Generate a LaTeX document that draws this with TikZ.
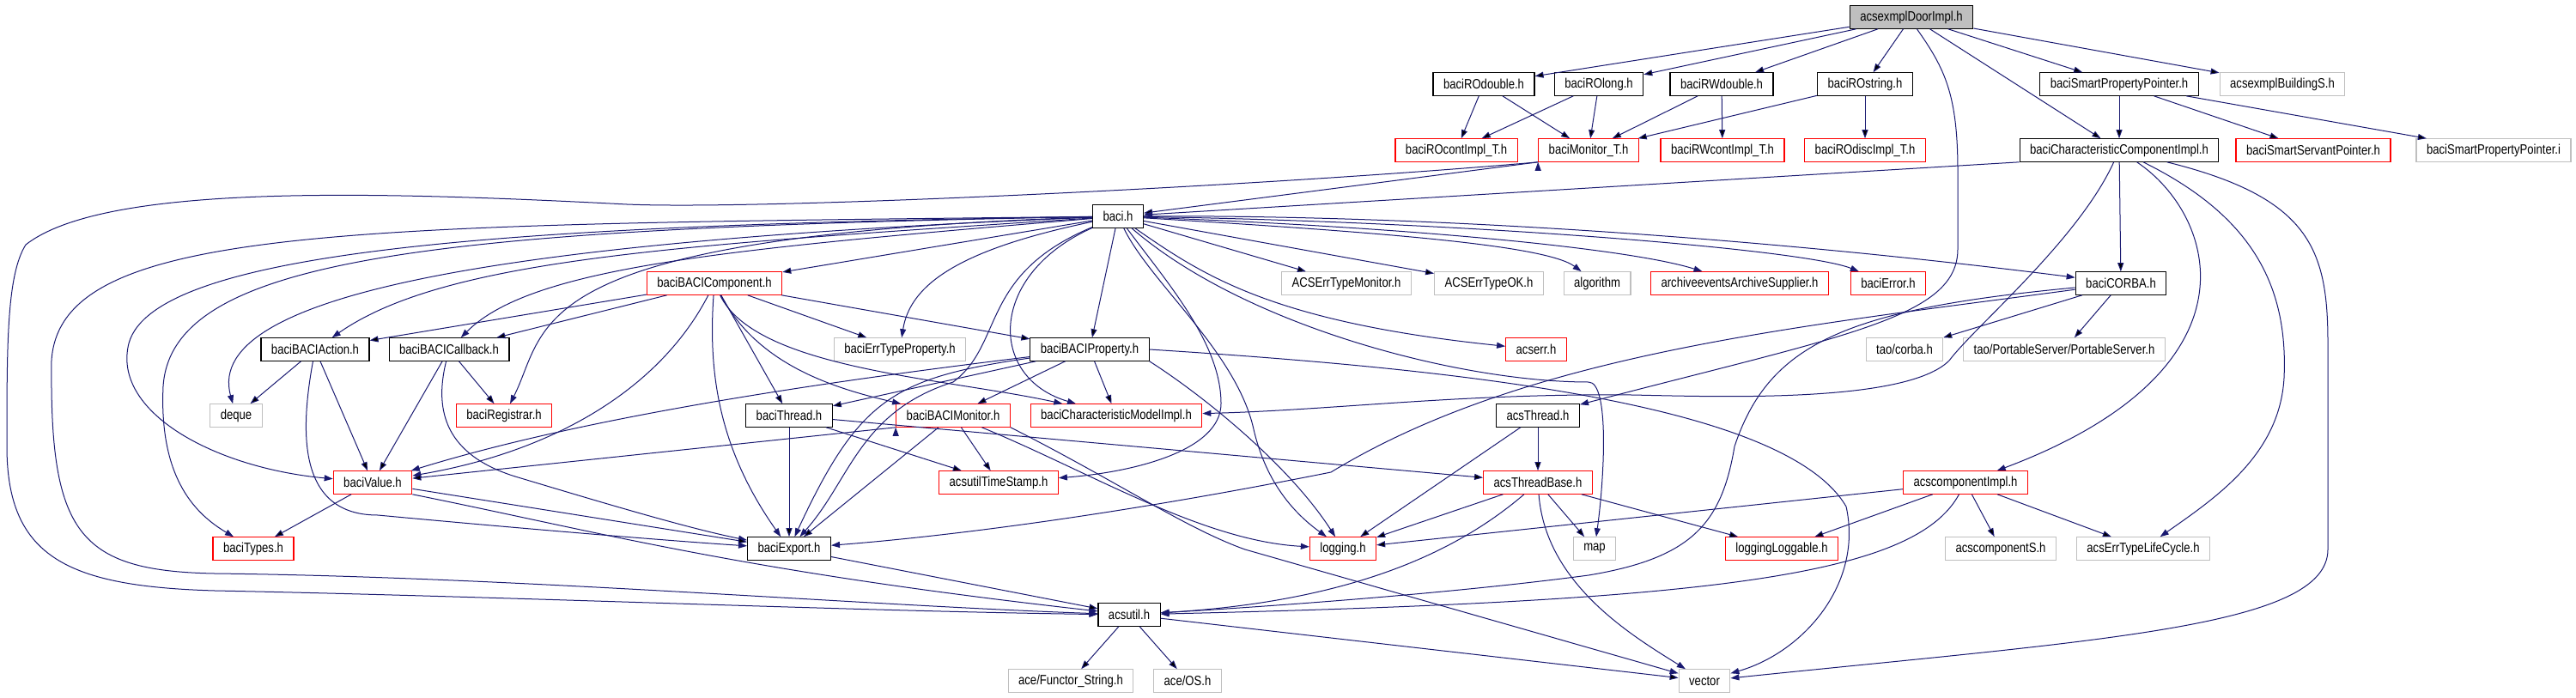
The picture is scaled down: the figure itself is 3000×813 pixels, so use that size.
\documentclass[tikz,border=0pt]{standalone}
\usepackage{fontspec}
\newfontfamily\dotfont{Liberation Sans}[FakeStretch=0.83]
\usepackage{tikz}
\usetikzlibrary{arrows.meta}
\definecolor{edgeblue}{HTML}{191970}
\definecolor{nodegray}{HTML}{BFBFBF}
\tikzstyle{every picture}+=[>={Triangle[length=10pt,width=7pt]}]
\tikzstyle{file}=[rectangle,draw=black,line width=1.1pt,fill=white,minimum height=26.5pt,inner xsep=12pt,inner ysep=0pt,font=\dotfont\fontsize{15.8}{18}\selectfont]
\tikzstyle{more}=[file,draw=red]
\tikzstyle{sys}=[file,draw=nodegray]
\tikzstyle{root}=[file,fill=nodegray]
\tikzstyle{dep}=[->,draw=edgeblue,line width=1pt]

\begin{document}
\begin{tikzpicture}[x=1pt,y=1pt]
\useasboundingbox (0,0) rectangle (3000,-813);
\node[root] (door) at (2226,-20) {acsexmplDoorImpl.h};
\node[file] (rodouble) at (1728,-98) {baciROdouble.h};
\node[file] (rolong) at (1862,-98) {baciROlong.h};
\node[file] (rwdouble) at (2005,-98) {baciRWdouble.h};
\node[file] (rostring) at (2172,-98) {baciROstring.h};
\node[file] (spp) at (2468,-98) {baciSmartPropertyPointer.h};
\node[sys] (buildings) at (2658,-98) {acsexmplBuildingS.h};
\node[more] (rocont) at (1696,-175) {baciROcontImpl\_T.h};
\node[more] (monitorT) at (1850,-175) {baciMonitor\_T.h};
\node[more] (rwcont) at (2006,-175) {baciRWcontImpl\_T.h};
\node[more] (rodisc) at (2172,-175) {baciROdiscImpl\_T.h};
\node[file] (cci) at (2468,-175) {baciCharacteristicComponentImpl.h};
\node[more] (ssp) at (2694,-175) {baciSmartServantPointer.h};
\node[sys] (sppi) at (2904,-175) {baciSmartPropertyPointer.i};
\node[file] (baci) at (1302,-252) {baci.h};
\node[more] (bacicomp) at (832,-330) {baciBACIComponent.h};
\node[sys] (errmon) at (1568,-330) {ACSErrTypeMonitor.h};
\node[sys] (errok) at (1734,-330) {ACSErrTypeOK.h};
\node[sys] (algorithm) at (1860,-330) {algorithm};
\node[more] (archsup) at (2026,-330) {archiveeventsArchiveSupplier.h};
\node[more] (bacierror) at (2199,-330) {baciError.h};
\node[file] (corba) at (2470,-330) {baciCORBA.h};
\node[file] (action) at (367,-407) {baciBACIAction.h};
\node[file] (callback) at (523,-407) {baciBACICallback.h};
\node[sys] (errprop) at (1048,-407) {baciErrTypeProperty.h};
\node[file] (property) at (1269,-407) {baciBACIProperty.h};
\node[more] (acserr) at (1789,-407) {acserr.h};
\node[sys] (taocorba) at (2218,-407) {tao/corba.h};
\node[sys] (portable) at (2404,-407) {tao/PortableServer/PortableServer.h};
\node[sys] (deque) at (275,-484) {deque};
\node[more] (registrar) at (587,-484) {baciRegistrar.h};
\node[file] (thread) at (919,-484) {baciThread.h};
\node[more] (bacimon) at (1110,-484) {baciBACIMonitor.h};
\node[more] (charmodel) at (1300,-484) {baciCharacteristicModelImpl.h};
\node[file] (acsthread) at (1791,-484) {acsThread.h};
\node[more] (value) at (434,-562) {baciValue.h};
\node[more] (timestamp) at (1163,-562) {acsutilTimeStamp.h};
\node[more] (threadbase) at (1791,-562) {acsThreadBase.h};
\node[more] (compimpl) at (2289,-562) {acscomponentImpl.h};
\node[more] (types) at (295,-639) {baciTypes.h};
\node[file] (export) at (919,-639) {baciExport.h};
\node[more] (logging) at (1564,-639) {logging.h};
\node[sys] (map) at (1857,-639) {map};
\node[more] (loggable) at (2075,-639) {loggingLoggable.h};
\node[sys] (compS) at (2330,-639) {acscomponentS.h};
\node[sys] (lifecycle) at (2496,-639) {acsErrTypeLifeCycle.h};
\node[file] (acsutil) at (1315,-716) {acsutil.h};
\node[sys] (functor) at (1247,-793) {ace/Functor\_String.h};
\node[sys] (os) at (1383,-793) {ace/OS.h};
\node[sys] (vector) at (1985,-793) {vector};

% top of the graph
\path[dep] (door) edge (rodouble) edge (rolong) edge (rwdouble) edge (rostring)
  edge (spp) edge (buildings) edge (cci);
\draw[dep] (door.-65) .. controls (2265,-80) and (2280,-110) .. (2280,-200) -- (2280,-290)
  .. controls (2280,-370) and (2150,-390) .. (acsthread);
\path[dep] (rodouble) edge (rocont) edge (monitorT);
\path[dep] (rolong) edge (rocont) edge (monitorT);
\path[dep] (rwdouble) edge (monitorT) edge (rwcont);
\path[dep] (rostring) edge (monitorT) edge (rodisc);
\path[dep] (spp) edge (cci) edge (ssp) edge (sppi);

% baciMonitor_T.h
\path[dep] (monitorT.south west) edge (baci);
\draw[dep] (monitorT.south west) .. controls (1500,-215) and (900,-245) .. (730,-238)
  .. controls (420,-222) and (120,-215) .. (30,-285) .. controls (8,-320) and (8,-400) .. (8,-520)
  .. controls (8,-650) and (80,-683) .. (250,-688) .. controls (600,-695) and (1000,-712) .. (acsutil);

% baciCharacteristicComponentImpl.h
\draw[dep] (cci.south west) -- (baci);
\path[dep] (cci) edge (corba);
\draw[dep] (cci) .. controls (2420,-280) and (2300,-380) .. (2270,-420)
  .. controls (2220,-470) and (2000,-462) .. (1900,-460) .. controls (1700,-458) and (1550,-478) .. (charmodel);
\draw[dep] (cci) .. controls (2580,-250) and (2640,-430) .. (compimpl);
\draw[dep] (cci) .. controls (2620,-250) and (2665,-330) .. (2660,-440)
  .. controls (2655,-530) and (2580,-580) .. (lifecycle);
\draw[dep] (cci) .. controls (2690,-230) and (2711,-290) .. (2711,-400) -- (2711,-640)
  .. controls (2711,-730) and (2450,-745) .. (vector);

% baci.h
\path[dep] (baci) edge (bacicomp) edge (property) edge (errmon) edge (errok);
\draw[dep] (baci) .. controls (800,-285) and (520,-300) .. (action);
\draw[dep] (baci) .. controls (850,-290) and (620,-310) .. (callback);
\draw[dep] (baci) .. controls (600,-280) and (235,-340) .. (deque);
\draw[dep] (baci) .. controls (600,-275) and (640,-380) .. (registrar);
\draw[dep] (baci) .. controls (600,-262) and (180,-290) .. (150,-400)
  .. controls (130,-480) and (250,-545) .. (value);
\draw[dep] (baci) .. controls (500,-266) and (200,-300) .. (190,-450)
  .. controls (185,-560) and (230,-600) .. (types);
\draw[dep] (baci) .. controls (400,-262) and (70,-262) .. (60,-420)
  .. controls (58,-620) and (90,-665) .. (250,-668) .. controls (600,-672) and (1000,-705) .. (acsutil);
\draw[dep] (baci) .. controls (1140,-320) and (1170,-400) .. (1110,-445)
  .. controls (1000,-480) and (990,-560) .. (export);
\draw[dep] (baci) .. controls (1120,-290) and (1060,-330) .. (errprop);
\draw[dep] (baci) .. controls (1150,-320) and (1150,-440) .. (charmodel);
\draw[dep] (baci) .. controls (1360,-330) and (1422,-400) .. (1422,-470)
  .. controls (1422,-525) and (1320,-550) .. (timestamp);
\draw[dep] (baci) .. controls (1340,-330) and (1440,-410) .. (1460,-500)
  .. controls (1475,-565) and (1510,-600) .. (logging);
\draw[dep] (baci) .. controls (1450,-380) and (1700,-445) .. (1850,-445)
  .. controls (1875,-445) and (1868,-560) .. (map);
\draw[dep] (baci) .. controls (1400,-320) and (1480,-375) .. (acserr);
\draw[dep] (baci) .. controls (1600,-270) and (1800,-285) .. (algorithm);
\draw[dep] (baci) .. controls (1650,-265) and (1900,-290) .. (archsup);
\draw[dep] (baci) .. controls (1700,-258) and (2100,-290) .. (bacierror);
\draw[dep] (baci) .. controls (1700,-250) and (2100,-283) .. (corba);

% baciBACIComponent.h
\path[dep] (bacicomp) edge (action) edge (callback) edge (errprop) edge (property) edge (thread);
\draw[dep] (bacicomp) .. controls (880,-420) and (960,-450) .. (bacimon);
\draw[dep] (bacicomp) .. controls (880,-430) and (1100,-440) .. (charmodel);
\draw[dep] (bacicomp) .. controls (770,-450) and (650,-525) .. (value);
\draw[dep] (bacicomp) .. controls (825,-430) and (835,-520) .. (export);

% actions and callbacks
\path[dep] (action) edge (deque) edge (value);
\draw[dep] (action) .. controls (350,-500) and (345,-600) .. (440,-600)
  .. controls (600,-615) and (780,-630) .. (export);
\path[dep] (callback) edge (registrar) edge (value);
\draw[dep] (callback) .. controls (505,-480) and (520,-530) .. (600,-555)
  .. controls (700,-585) and (800,-615) .. (export);

% baciBACIProperty.h
\path[dep] (property) edge (thread) edge (bacimon) edge (charmodel);
\draw[dep] (property) .. controls (1000,-440) and (700,-480) .. (value);
\draw[dep] (property) .. controls (1040,-440) and (1000,-465) .. (export);
\draw[dep] (property.south east) .. controls (1400,-460) and (1500,-540) .. (logging);
\draw[dep] (property.east) .. controls (1700,-430) and (2080,-470) .. (2150,-590)
  .. controls (2170,-680) and (2100,-760) .. (vector);

% baciBACIMonitor.h
\path[dep] (bacimon.south west) edge (value);
\path[dep] (bacimon) edge (export) edge (timestamp);
\draw[dep] (bacimon) .. controls (1270,-550) and (1400,-630) .. (logging);
\draw[dep] (bacimon.south east) .. controls (1300,-560) and (1380,-615) .. (1450,-640) -- (vector);

% baciThread.h
\path[dep] (thread) edge (export) edge (threadbase) edge (timestamp);

% baciValue.h, baciExport.h, acsutil.h
\path[dep] (value) edge (types) edge (export);
\draw[dep] (value.south east) .. controls (700,-620) and (860,-665) .. (acsutil);
\path[dep] (export) edge (acsutil);
\path[dep] (acsutil) edge (functor) edge (os) edge (vector);

% threads
\path[dep] (acsthread) edge (threadbase) edge (logging);
\path[dep] (threadbase) edge (logging) edge (map) edge (loggable);
\draw[dep] (threadbase) .. controls (1800,-680) and (1900,-740) .. (vector);
\draw[dep] (threadbase) .. controls (1700,-640) and (1580,-700) .. (acsutil);

% acscomponentImpl.h
\path[dep] (compimpl) edge (logging) edge (loggable) edge (compS) edge (lifecycle);
\draw[dep] (compimpl) .. controls (2230,-670) and (2000,-700) .. (acsutil);

% baciCORBA.h
\path[dep] (corba) edge (taocorba) edge (portable);
\draw[dep] (corba) .. controls (2100,-380) and (1780,-410) .. (1550,-550)
  .. controls (1300,-600) and (1100,-625) .. (export);
\draw[dep] (corba) .. controls (2150,-360) and (2060,-400) .. (2020,-520)
  .. controls (2005,-610) and (1970,-650) .. (1850,-670) .. controls (1700,-690) and (1500,-705) .. (acsutil);
\end{tikzpicture}
\end{document}
